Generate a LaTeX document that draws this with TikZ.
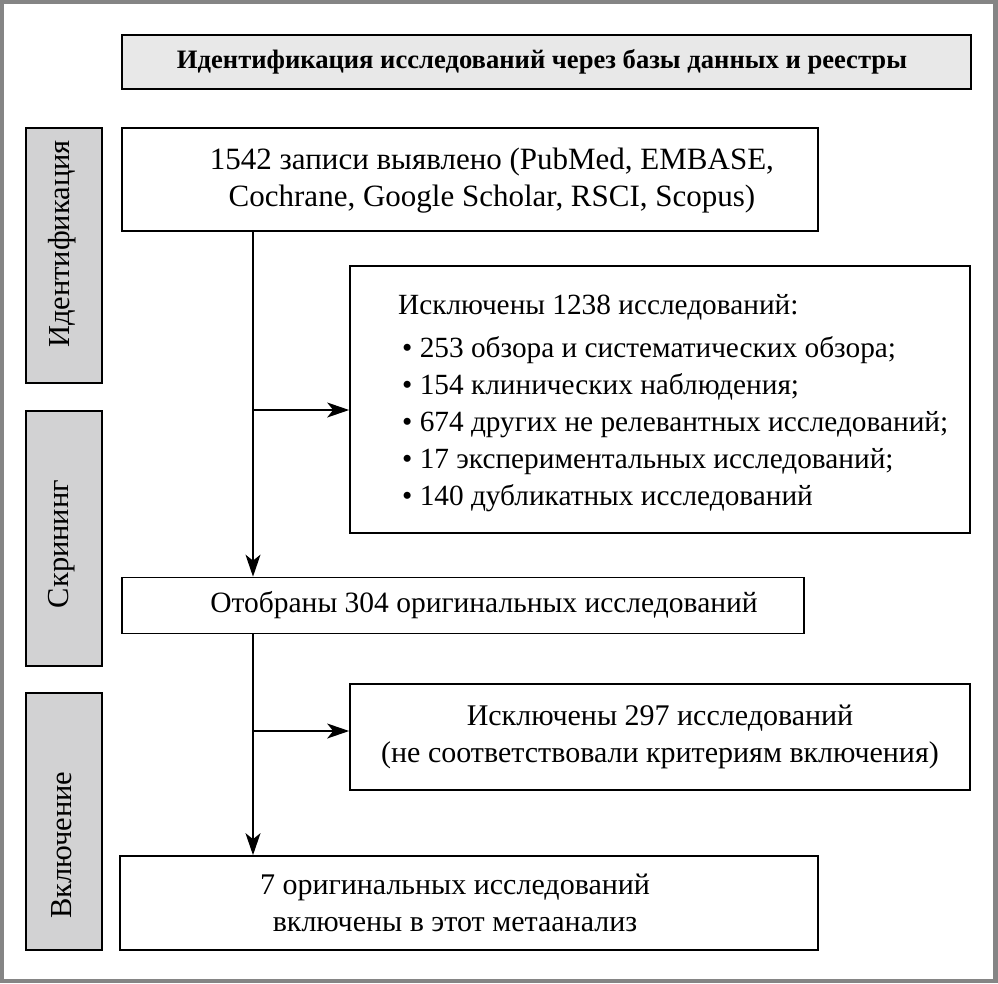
\documentclass[tikz,border=0pt]{standalone}
\usepackage{fontspec}
\setmainfont{Liberation Serif}
\usetikzlibrary{arrows.meta}
\definecolor{framegray}{HTML}{858585}
\definecolor{headfill}{HTML}{E8E8E8}
\definecolor{sidefill}{HTML}{D2D2D3}
\tikzset{
  box/.style={draw=black, line width=1.7pt, fill=white, inner sep=0pt, align=center,
    font=\fontsize{30}{37}\selectfont},
  headbox/.style={box, fill=headfill},
  sidebox/.style={draw=black, line width=1.7pt, fill=sidefill, inner sep=0pt,
    minimum width=76pt},
  sidetext/.style={rotate=90, inner sep=0pt, font=\fontsize{30.5}{37}\selectfont},
  txt/.style={inner sep=0pt, font=\fontsize{30}{37}\selectfont},
  flow/.style={line width=1.5pt, -{Stealth[length=22pt,width=15pt,inset=6pt]}}
}
\newcommand{\bul}{\hspace*{4pt}•\ }
\begin{document}
\begin{tikzpicture}[x=1pt,y=-1pt]
\useasboundingbox (0,0) rectangle (998,983);
\fill[framegray] (0,0) rectangle (998,983);
\fill[white] (4,4) rectangle (993,979);

\node[headbox, minimum width=849pt, minimum height=54pt] (head) at (546.5,62) {};
\node[txt, font=\fontsize{26.6}{32}\selectfont\bfseries] (headt) at (542,62)
  {Идентификация исследований через базы данных и реестры};

\node[box, minimum width=696pt, minimum height=103pt] (b1) at (470,179.5) {};
\node[txt, align=center, font=\fontsize{31}{37}\selectfont] (b1t) at (492,181)
  {1542 записи выявлено (PubMed, EMBASE,\\ Cochrane, Google Scholar, RSCI, Scopus)};

\node[box, minimum width=620pt, minimum height=267pt] (b2) at (660,399.5) {};
\node[txt, align=left, anchor=west, font=\fontsize{29.3}{37}\selectfont] (b2t) at (398,403)
  {Исключены 1238 исследований:\\[6pt]
   \bul 253 обзора и систематических обзора;\\
   \bul 154 клинических наблюдения;\\
   \bul 674 других не релевантных исследований;\\
   \bul 17 экспериментальных исследований;\\
   \bul 140 дубликатных исследований};

\node[box, minimum width=682pt, minimum height=56pt] (b3) at (463,605.5) {};
\node[txt, font=\fontsize{29.5}{37}\selectfont] (b3t) at (484,605.5)
  {Отобраны 304 оригинальных исследований};

\node[box, minimum width=620pt, minimum height=106pt] (b4) at (660,737)
  {Исключены 297 исследований\\(не соответствовали критериям включения)};

\node[box, minimum width=698pt, minimum height=94pt] (b5) at (469,903) {};
\node[txt, align=center] (b5t) at (455,903)
  {7 оригинальных исследований\\ включены в этот метаанализ};

\node[sidebox, minimum height=255pt] (s1) at (64,255.5) {};
\node[sidetext] (s1t) at (62,244) {Идентификация};
\node[sidebox, minimum height=255pt] (s2) at (64,538.5) {};
\node[sidetext] (s2t) at (62,544) {Скрининг};
\node[sidebox, minimum height=257pt] (s3) at (64,821.5) {};
\node[sidetext] (s3t) at (62,845) {Включение};

\coordinate (t1) at (253,0);
\coordinate (j1) at (253,410);
\coordinate (j2) at (253,731);
\draw[flow] (b1.south -| t1) -- (b3.north -| t1);
\draw[flow] (j1) -- (j1 -| b2.west);
\draw[flow] (b3.south -| t1) -- (b5.north -| t1);
\draw[flow] (j2) -- (j2 -| b4.west);
\end{tikzpicture}
\end{document}
